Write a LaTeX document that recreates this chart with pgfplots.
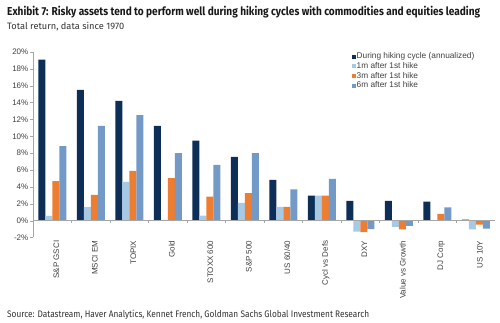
\documentclass[border=0pt]{standalone}
\usepackage{pgfplots}
\pgfplotsset{compat=1.18}
\usepackage{fontspec}
\usepackage{graphicx}
\setmainfont{Liberation Sans}
\newfontfamily\titlefont{Fira Sans}
\definecolor{cDark}{HTML}{0D2F57}
\definecolor{cLight}{HTML}{A6CAE6}
\definecolor{cOrange}{HTML}{ED7D31}
\definecolor{cSteel}{HTML}{7399C6}
\definecolor{cText}{HTML}{404040}
\begin{document}
\begin{tikzpicture}
\path[use as bounding box] (0,0) rectangle (500bp,323bp);
\node[anchor=base west, inner sep=0pt, text=black!90] at (7bp,307.5bp)
  {\resizebox{473bp}{\height}{\titlefont\fontsize{11.5bp}{13bp}\selectfont\bfseries Exhibit 7: Risky assets tend to perform well during hiking cycles with commodities and equities leading}};
\node[anchor=base west, inner sep=0pt, text=black!80] at (7bp,293.7bp)
  {\resizebox{117bp}{\height}{\titlefont\fontsize{9.3bp}{11bp}\selectfont Total return, data since 1970}};
\node[anchor=base west, inner sep=0pt, text=black!80] at (7bp,5bp)
  {\resizebox{362bp}{\height}{\titlefont\fontsize{9.5bp}{11bp}\selectfont Source: Datastream, Haver Analytics, Kennet French, Goldman Sachs Global Investment Research}};
\begin{axis}[
  at={(33bp,85.5bp)}, anchor=south west,
  scale only axis, width=462bp, height=185.5bp,
  xmin=-0.5, xmax=11.5, ymin=-2, ymax=20,
  ybar=0pt, bar width=7bp,
  axis lines*=left,
  separate axis lines,
  x axis line style={draw=none},
  y axis line style={draw=gray!70},
  xtick=data,
  xtick style={draw=none},
  xticklabels={S\&P GSCI, MSCI EM, TOPIX, Gold, STOXX 600, S\&P 500, US 60/40, Cycl vs Defs, DXY, Value vs Growth, DJ Corp, US 10Y},
  xticklabel style={rotate=90, anchor=east, inner sep=0pt, font=\fontsize{8bp}{9bp}\selectfont, text=cText, yshift=-4bp},
  ytick={-2,0,2,...,20},
  yticklabel={\pgfmathprintnumber[assume math mode=true]{\tick}\%},
  yticklabel style={font=\fontsize{8bp}{9bp}\selectfont, text=cText, inner sep=1.5bp},
  ytick style={draw=gray!70},
  tick align=outside,
  major tick length=3bp,
  legend style={at={(0.684,1.013)}, anchor=north west, draw=none, fill=none,
    font=\fontsize{8.3bp}{9bp}\selectfont, text=cText,
    nodes={inner sep=0.5pt, text height=6.4bp, text depth=2.3bp, anchor=west},
    row sep=0pt},
  legend cell align=left,
  legend image code/.code={\fill[#1] (0bp,-2bp) rectangle (4bp,2bp);},
]
\addplot[fill=cDark, draw=none] coordinates {(0,19.1) (1,15.5) (2,14.2) (3,11.25) (4,9.5) (5,7.55) (6,4.83) (7,2.96) (8,2.33) (9,2.33) (10,2.25) (11,0.12)};
\addplot[fill=cLight, draw=none] coordinates {(0,0.55) (1,1.6) (2,4.6) (3,0.1) (4,0.6) (5,2.1) (6,1.62) (7,2.96) (8,-1.3) (9,-0.75) (10,0.05) (11,-1.03)};
\addplot[fill=cOrange, draw=none] coordinates {(0,4.7) (1,3.05) (2,5.9) (3,5.05) (4,2.85) (5,3.25) (6,1.62) (7,2.96) (8,-1.35) (9,-1.05) (10,0.8) (11,-0.47)};
\addplot[fill=cSteel, draw=none] coordinates {(0,8.85) (1,11.25) (2,12.5) (3,8.0) (4,6.6) (5,8.0) (6,3.71) (7,4.94) (8,-1.0) (9,-0.63) (10,1.58) (11,-0.95)};
\legend{During hiking cycle (annualized), 1m after 1st hike, 3m after 1st hike, 6m after 1st hike}
\draw[gray!70] (axis cs:-0.5,0) -- (axis cs:11.5,0);
\pgfplotsinvokeforeach{0,...,10}{\draw[gray!70] (axis cs:#1.5,0) -- ++(0pt,-2.5bp);}
\end{axis}
\end{tikzpicture}
\end{document}
